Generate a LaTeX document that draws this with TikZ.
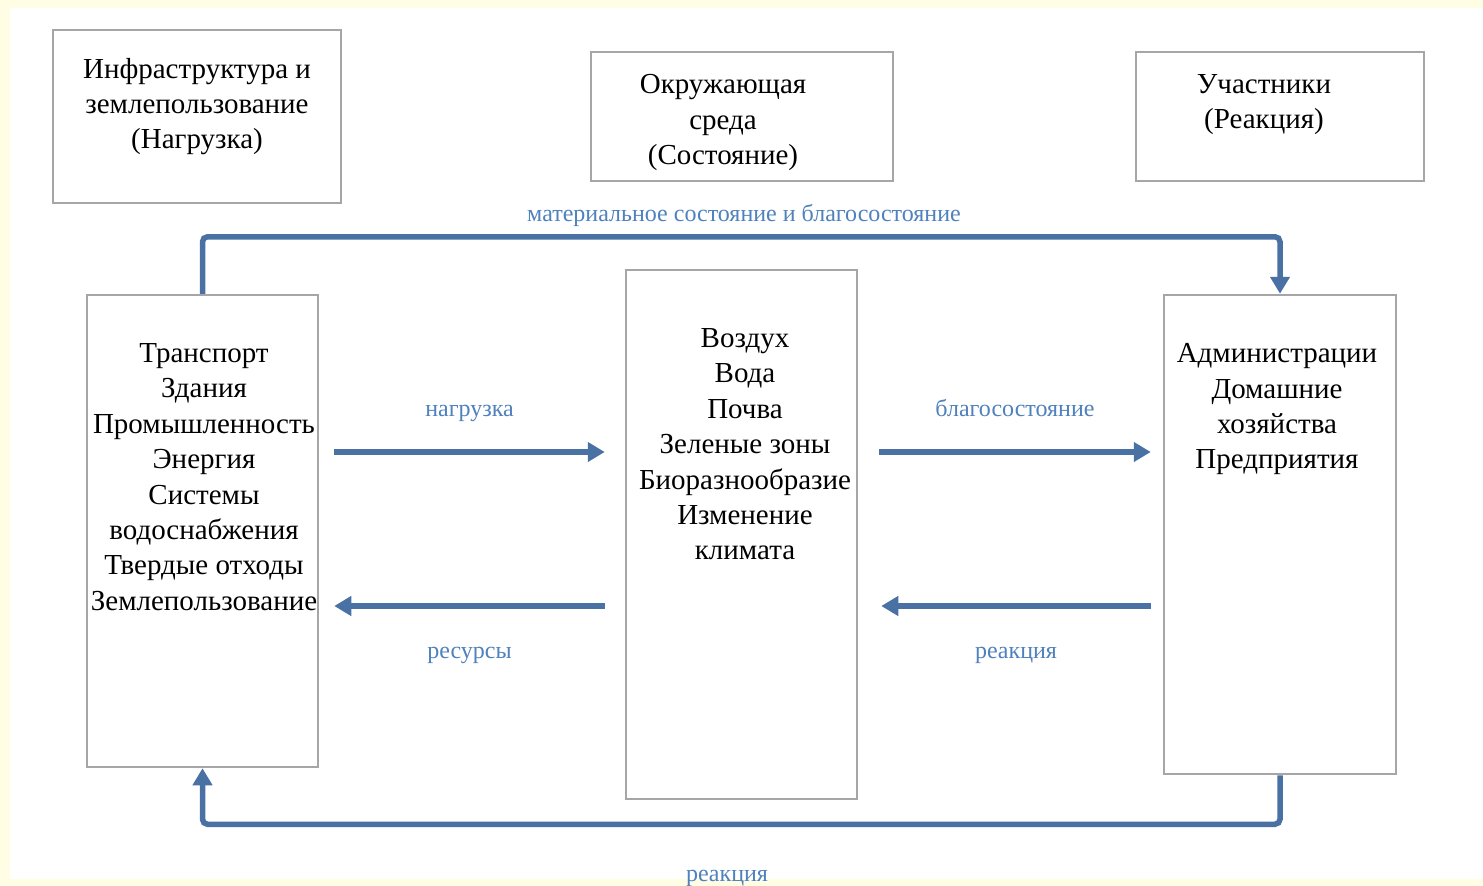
\documentclass[tikz,border=0pt]{standalone}
\usepackage{fontspec}
\setmainfont{Liberation Serif}
\usepackage{tikz}
\usetikzlibrary{arrows.meta}

\definecolor{boxgray}{HTML}{A6A6A6}
\definecolor{flowblue}{HTML}{4A71A4}
\definecolor{labelblue}{HTML}{4F81BD}
\definecolor{paleyellow}{HTML}{FFFDE4}

\tikzset{
  box/.style={draw=boxgray, line width=2.5pt, inner sep=0pt},
  boxtext/.style={anchor=north, align=center, inner sep=0pt, font=\fontsize{29}{35.4}\selectfont},
  flow/.style={color=flowblue, line width=5.5pt, -{Triangle[length=17pt,width=19pt]}},
  flowlabel/.style={text=labelblue, text height=16pt, text depth=5pt, font=\fontsize{24}{28}\selectfont},
}

\begin{document}
\begin{tikzpicture}[x=1pt, y=-1pt]
  \fill[paleyellow] (0,0) rectangle (1483,886);
  \fill[white] (10,8) rectangle (1483,879);
  \useasboundingbox (0,0) rectangle (1483,886);

  % headings
  \node[box, minimum width=288pt, minimum height=173pt] (infra) at (197,116.5) {};
  \node[box, minimum width=302pt, minimum height=129pt] (envhead) at (742,116.5) {};
  \node[box, minimum width=288pt, minimum height=129pt] (actors) at (1280,116.5) {};
  \node[boxtext] (infratext) at ([yshift=-29pt]infra.north) {Инфраструктура и\\землепользование\\(Нагрузка)};
  \node[boxtext] (envheadtext) at ([xshift=-19pt,yshift=-23.5pt]envhead.north) {Окружающая\\среда\\(Состояние)};
  \node[boxtext] (actorstext) at ([xshift=-16pt,yshift=-23.5pt]actors.north) {Участники\\(Реакция)};

  % main columns
  \node[box, minimum width=231pt, minimum height=472pt] (sources) at (202.5,531) {};
  \node[box, minimum width=231pt, minimum height=529pt] (env) at (741.5,534.5) {};
  \node[box, minimum width=232pt, minimum height=479pt] (resp) at (1280,534.5) {};
  \node[boxtext] (sourcestext) at ([xshift=1.5pt,yshift=-49.5pt]sources.north)
    {Транспорт\\Здания\\Промышленность\\Энергия\\Системы\\водоснабжения\\Твердые отходы\\Землепользование};
  \node[boxtext] (envtext) at ([xshift=3.5pt,yshift=-59.5pt]env.north)
    {Воздух\\Вода\\Почва\\Зеленые зоны\\Биоразнообразие\\Изменение\\климата};
  \node[boxtext] (resptext) at ([xshift=-3pt,yshift=-49.5pt]resp.north)
    {Администрации\\Домашние\\хозяйства\\Предприятия};

  % flows
  \path[flow]
  ([xshift=15pt]sources.east |- 0,452) edge node[flowlabel, above=24pt] {нагрузка} ([xshift=-20pt]env.west |- 0,452)
  ([xshift=-20pt]env.west |- 0,606) edge node[flowlabel, below=30pt] {ресурсы} ([xshift=15pt]sources.east |- 0,606)
  ([xshift=21pt]env.east |- 0,452) edge node[flowlabel, above=24pt] {благосостояние} ([xshift=-12pt]resp.west |- 0,452)
  ([xshift=-12pt]resp.west |- 0,606) edge node[flowlabel, below=30pt] {реакция} ([xshift=23pt]env.east |- 0,606)
  ;
  \draw[flow, rounded corners=5pt] (sources.north) -- ++(0,-57) -| (resp.north);
  \draw[flow, rounded corners=5pt] (resp.south) -- ++(0,49) -| (sources.south);
  \node[flowlabel, anchor=base] (wellbeing) at (744,221) {материальное состояние и благосостояние};
  \node[flowlabel, anchor=base] (feedback) at (727,881) {реакция};
\end{tikzpicture}
\end{document}
